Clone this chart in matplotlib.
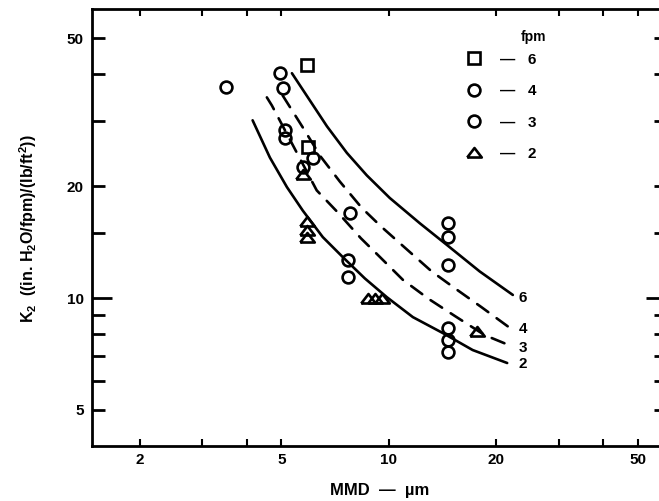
import matplotlib
matplotlib.use("Agg")
import matplotlib.pyplot as plt
from matplotlib.lines import Line2D
from matplotlib.ticker import FixedLocator, FuncFormatter, NullLocator

plt.rcParams['font.family'] = ['Liberation Sans', 'DejaVu Sans']
plt.rcParams['font.weight'] = 'bold'
plt.rcParams['mathtext.fontset'] = 'custom'
plt.rcParams['mathtext.rm'] = 'Liberation Sans:bold'
plt.rcParams['mathtext.it'] = 'Liberation Sans:bold'
plt.rcParams['mathtext.bf'] = 'Liberation Sans:bold'

# measured points (MMD um, K2)
sq6_x = [5.88, 5.93]
sq6_y = [42.3, 25.5]
c4_x = [3.49, 4.95, 5.05, 6.12, 7.78, 14.7, 14.7, 14.7]
c4_y = [36.9, 40.3, 36.7, 23.8, 16.9, 15.9, 14.6, 12.3]
c3_x = [5.12, 5.12, 5.74, 7.7, 7.7, 14.7, 14.7, 14.7]
c3_y = [28.3, 26.9, 22.5, 12.7, 11.4, 8.3, 7.71, 7.16]
tr2_x = [5.74, 5.88, 5.88, 5.88, 8.74, 9.15, 9.58, 17.7]
tr2_y = [21.4, 16.0, 15.2, 14.5, 9.94, 9.94, 9.94, 8.1]

# curves
curve6_x = [5.35, 5.93, 6.71, 7.63, 8.68, 10.07, 12.23, 14.57, 18.0, 22.3]
curve6_y = [40.3, 34.7, 29.0, 24.6, 21.4, 18.6, 15.9, 13.9, 11.8, 10.2]
curve4_x = [5.04, 5.74, 6.45, 7.29, 8.40, 9.51, 11.17, 13.2, 15.4, 18.2, 21.9]
curve4_y = [35.1, 28.8, 24.0, 20.6, 17.5, 15.6, 13.6, 11.8, 10.6, 9.46, 8.31]
curve3_x = [4.55, 4.70, 6.28, 7.20, 8.35, 9.45, 10.96, 12.97, 15.34, 18.6, 21.2]
curve3_y = [34.7, 33.0, 19.5, 17.0, 14.5, 12.9, 11.2, 9.94, 8.95, 7.95, 7.55]
curve2_x = [4.15, 4.64, 5.18, 5.74, 6.53, 7.43, 8.57, 9.88, 11.69, 14.2, 17.2, 21.5]
curve2_y = [30.1, 23.9, 19.9, 17.2, 14.6, 12.9, 11.3, 10.06, 8.89, 8.05, 7.25, 6.69]

curve_labels = ['6', '4', '3', '2']
label_y = [10.0, 8.26, 7.34, 6.65]

x_ticks = [2, 3, 4, 5, 10, 20, 30, 40, 50]
x_labeled = [2, 5, 10, 20, 50]
y_ticks = [5, 6, 7, 8, 9, 15, 20, 30, 40, 50]
y_labeled = [5, 20, 50]

fig = plt.figure(figsize=(6.59, 5.01), dpi=100)
ax = fig.add_axes([92 / 659, 1 - 446 / 501, 574 / 659, 437 / 501])
ax.set_xscale('log')
ax.set_yscale('log')
ax.set_xlim(1.47, 60)
ax.set_ylim(4, 60)

tri = [(-1, -0.55), (1, -0.55), (0, 0.75), (-1, -0.55)]
mk = dict(linestyle='none', mfc='none', mec='black', mew=1.9, ms=8.5)

ax.plot(sq6_x, sq6_y, marker='s', **mk)
ax.plot(c4_x, c4_y, marker='o', **mk)
ax.plot(c3_x, c3_y, marker='o', **mk)
ax.plot(tr2_x, tr2_y, marker=tri, **{**mk, 'ms': 10.5})

ax.plot(curve6_x, curve6_y, color='black', lw=1.9, solid_capstyle='round')
ax.plot(curve4_x, curve4_y, color='black', lw=1.9, dashes=(5.2, 3.9), dash_capstyle='round')
ax.plot(curve3_x, curve3_y, color='black', lw=1.9, dashes=(5.2, 3.9), dash_capstyle='round')
ax.plot(curve2_x, curve2_y, color='black', lw=1.9, solid_capstyle='round')

for lab, yy in zip(curve_labels, label_y):
    ax.text(23.2, yy, lab, fontsize=11, fontweight='bold', ha='left', va='center')

for s in ax.spines.values():
    s.set_linewidth(2)

ax.xaxis.set_major_locator(FixedLocator(x_ticks))
ax.xaxis.set_minor_locator(NullLocator())
ax.xaxis.set_major_formatter(FuncFormatter(lambda v, p: f'{v:g}' if v in x_labeled else ''))
ax.tick_params(axis='x', which='major', direction='in', top=True, length=5, width=1.5,
               pad=5, labelsize=11)

ax.yaxis.set_major_locator(FixedLocator([10]))
ax.yaxis.set_minor_locator(FixedLocator(y_ticks))
ax.yaxis.set_major_formatter(FuncFormatter(lambda v, p: '10'))
ax.yaxis.set_minor_formatter(FuncFormatter(lambda v, p: f'{v:g}' if v in y_labeled else ''))
ax.tick_params(axis='y', which='major', direction='in', right=True, length=14.5, width=2,
               pad=6, labelsize=11)
ax.tick_params(axis='y', which='minor', direction='in', right=True, length=9, width=2,
               pad=6, labelsize=11)

# legend
handles = [
    Line2D([], [], marker='s', **mk),
    Line2D([], [], marker='o', **mk),
    Line2D([], [], marker='o', **mk),
    Line2D([], [], marker=tri, **{**mk, 'ms': 10.5}),
]
labels = ['\u2014   6', '\u2014   4', '\u2014   3', '\u2014   2']
ax.legend(handles, labels, loc='upper left', bbox_to_anchor=(0.652, 0.900), frameon=False,
          borderpad=0, borderaxespad=0, handlelength=1.0, handletextpad=1.2,
          labelspacing=1.14, prop={'weight': 'bold', 'size': 11})
ax.text(0.770, 0.936, 'fpm', transform=ax.transAxes, fontsize=10, fontweight='bold',
        ha='center', va='center')

fig.text(28 / 659, 1 - 229 / 501, r'K$_2$  ((in. H$_2$O/fpm)/(lb/ft$^2$))', rotation=90,
         ha='center', va='center', fontsize=11.5, fontweight='bold')
fig.text(380 / 659, 1 - 490 / 501, 'MMD  \u2014  \u00b5m', ha='center', va='center',
         fontsize=12, fontweight='bold')

fig.savefig('out.png', dpi=100)
